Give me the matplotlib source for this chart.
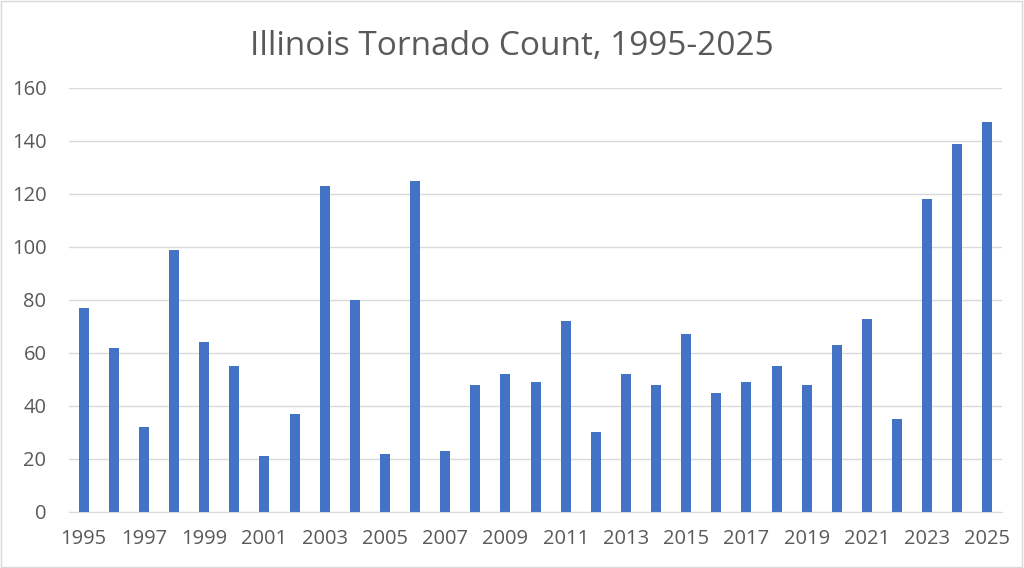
import matplotlib
matplotlib.use('Agg')
import matplotlib.pyplot as plt
import numpy as np

years = list(range(1995, 2026))
counts = [77, 62, 32, 99, 64, 55, 21, 37, 123, 80, 22, 125, 23, 48, 52, 49,
          72, 30, 52, 48, 67, 45, 49, 55, 48, 63, 73, 35, 118, 139, 147]
yticks = [0, 20, 40, 60, 80, 100, 120, 140, 160]

plt.rcParams['font.family'] = ['Open Sans', 'DejaVu Sans']
text_color = '#595959'

fig = plt.figure(figsize=(10.24, 5.68), dpi=100)
ax = fig.add_axes([0.067, 0.0986, 0.912, 0.7465])

x = np.arange(len(years))
ax.bar(x, counts, width=0.33, color='#4472C4', zorder=3)

ax.set_xlim(-0.5, len(years) - 0.5)
ax.set_ylim(0, 160)
ax.set_yticks(yticks)
ax.set_xticks(x[::2])
ax.set_xticklabels([str(y) for y in years[::2]])
ax.tick_params(axis='both', length=0, labelsize=14.5, colors=text_color)
ax.tick_params(axis='y', pad=16)
ax.tick_params(axis='x', pad=12)

ax.grid(axis='y', color='#D9D9D9', linewidth=1, zorder=0)
for s in ['top', 'right', 'left']:
    ax.spines[s].set_visible(False)
ax.spines['bottom'].set_color('#D9D9D9')

fig.text(0.5, 0.918, 'Illinois Tornado Count, 1995-2025', ha='center', va='center',
         fontsize=24, color=text_color)

# light border around the chart
fig.patches.append(plt.Rectangle((0.001, 0.001), 0.997, 0.997, transform=fig.transFigure,
                                 fill=False, edgecolor='#D9D9D9', linewidth=1))

fig.savefig('out.png', dpi=100)
